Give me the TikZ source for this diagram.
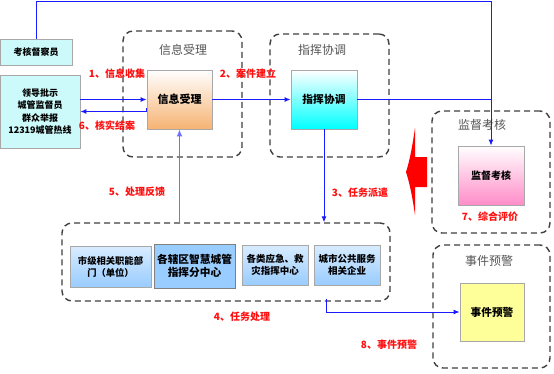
\documentclass[tikz,border=0pt]{standalone}
\usepackage{fontspec}
\setmainfont{Noto Sans CJK SC}
\usetikzlibrary{arrows.meta,calc}
\definecolor{lineblue}{HTML}{1A1AFF}
\definecolor{lightblue}{HTML}{7070FF}
\definecolor{boxedge}{HTML}{A8A8A8}
\definecolor{grouptitle}{HTML}{555555}
\definecolor{groupedge}{HTML}{404040}
\definecolor{lblred}{HTML}{FF1010}
\definecolor{HTML-d8ecff}{HTML}{D8ECFF}
\definecolor{HTML-99ccff}{HTML}{99CCFF}
\definecolor{orangeb}{HTML}{F6B373}
\definecolor{pinkb}{HTML}{FF8CC8}
\definecolor{yellowb}{HTML}{FFFF99}
\definecolor{cyanlite}{HTML}{CCFAFA}
\tikzset{
  group/.style={draw=groupedge, line width=1.4pt, dash pattern=on 6pt off 4pt, rounded corners=10pt, inner sep=0pt},
  gtitle/.style={text=grouptitle, font=\fontsize{12}{14}\selectfont, inner sep=0pt},
  box/.style={draw=boxedge, line width=0.8pt, inner sep=1pt, align=center, font=\bfseries\fontsize{10}{12}\selectfont},
  bluebox/.style={box, top color=HTML-d8ecff, bottom color=HTML-99ccff},
  lbl/.style={text=lblred, font=\bfseries\fontsize{10}{12}\selectfont, inner sep=0pt},
  conn/.style={draw=lineblue, line width=1pt, -{Latex[length=6pt,width=5pt]}},
}
\begin{document}
\begin{tikzpicture}[x=1pt,y=-1pt]
\useasboundingbox (0,0) rectangle (554,373);
\fill[white] (0,0) rectangle (554,373);

% groups
\node[group, minimum width=119pt, minimum height=126pt] (g1) at (182.5,94) {};
\node[group, minimum width=119pt, minimum height=123pt] (g2) at (329.5,95.5) {};
\node[group, minimum width=118pt, minimum height=122pt] (g3) at (491,172) {};
\node[group, minimum width=328pt, minimum height=78pt] (g4) at (226,262) {};
\node[group, minimum width=117pt, minimum height=123pt] (g5) at (491.5,306.5) {};

\node[gtitle] (t1) at (183,50) {信息受理};
\node[gtitle] (t2) at (322,50) {指挥协调};
\node[gtitle] (t3) at (482,125) {监督考核};
\node[gtitle] (t4) at (489,261) {事件预警};

% boxes
\node[box, fill=cyanlite, minimum width=72pt, minimum height=26pt, font=\bfseries\fontsize{9}{11}\selectfont] (kh) at (36,52) {考核督察员};
\node[box, fill=cyanlite, minimum width=80pt, minimum height=73pt, font=\bfseries\fontsize{9}{12.5}\selectfont] (ld) at (40,111.5) {领导批示\\城管监督员\\群众举报\\12319城管热线};
\node[box, shade, shading angle=135, top color=white, bottom color=orangeb, minimum width=65pt, minimum height=59pt, font=\bfseries\fontsize{11}{13}\selectfont] (xx) at (179.5,99.5) {信息受理};
\node[box, top color=white, bottom color=cyan, minimum width=66pt, minimum height=59pt, font=\bfseries\fontsize{10.8}{13}\selectfont] (zh) at (324,99.5) {指挥协调};
\node[box, shade, shading angle=135, top color=white, bottom color=pinkb, minimum width=66pt, minimum height=59pt] (jd) at (491,175.5) {监督考核};
\node[box, fill=yellowb, minimum width=64pt, minimum height=58pt, font=\bfseries\fontsize{10.7}{12}\selectfont] (sj) at (492,312) {事件预警};

\node[bluebox, minimum width=81pt, minimum height=41pt, font=\bfseries\fontsize{9.3}{12}\selectfont] (b1) at (110.5,266.5) {市级相关职能部\\门（单位）};
\node[box, fill=HTML-99ccff, draw=gray, minimum width=81pt, minimum height=44pt, font=\bfseries\fontsize{10.7}{13}\selectfont] (b2) at (194.5,266) {各辖区智慧城管\\指挥分中心};
\node[bluebox, minimum width=66pt, minimum height=40pt, font=\bfseries\fontsize{9.5}{12}\selectfont] (b3) at (275,265) {各类应急、救\\灾指挥中心};
\node[bluebox, minimum width=66pt, minimum height=40pt, font=\bfseries\fontsize{9.5}{12}\selectfont] (b4) at (347,265) {城市公共服务\\相关企业};

% connectors
\coordinate (topy) at (0,1);
\draw[conn] (kh.north) -- (kh.north |- topy) -| (jd.north);
\draw[draw=lineblue, line width=1pt] (zh.east) -- (zh.east -| jd.north);
\draw[conn] (ld.east |- xx.west) -- (xx.west);
\coordinate (c6) at ($(xx.west)+(0,8)$);
\draw[conn] (c6) -- (c6 |- ld.east) -- (ld.east);
\draw[conn] (xx.east) -- (zh.west);
\draw[conn] (zh.south) -- (zh.south |- g4.north);
\draw[conn, draw=lightblue, line width=1.6pt, {Latex[length=7pt,width=6pt]}-] (xx.south) -- (xx.south |- g4.north);
\coordinate (c8) at (326,299);
\draw[conn] (c8) |- (sj.west);

% big red arrow
\fill[red] (406,172) .. controls (410,160) and (413,142) .. (415,128) -- (415,157) -- (427,157) -- (427,187) -- (415,187) -- (415,215) .. controls (413,201) and (410,184) .. (406,172) -- cycle;

% labels
\node[lbl] (l1) at (117,74) {1、信息收集};
\node[lbl] (l2) at (248,74) {2、案件建立};
\node[lbl] (l6) at (107,126) {6、核实结案};
\node[lbl] (l5) at (137,192) {5、处理反馈};
\node[lbl] (l3) at (360,193) {3、任务派遣};
\node[lbl] (l4) at (242,317) {4、任务处理};
\node[lbl] (l7) at (490,217) {7、综合评价};
\node[lbl] (l8) at (389,345) {8、事件预警};
\end{tikzpicture}
\end{document}
